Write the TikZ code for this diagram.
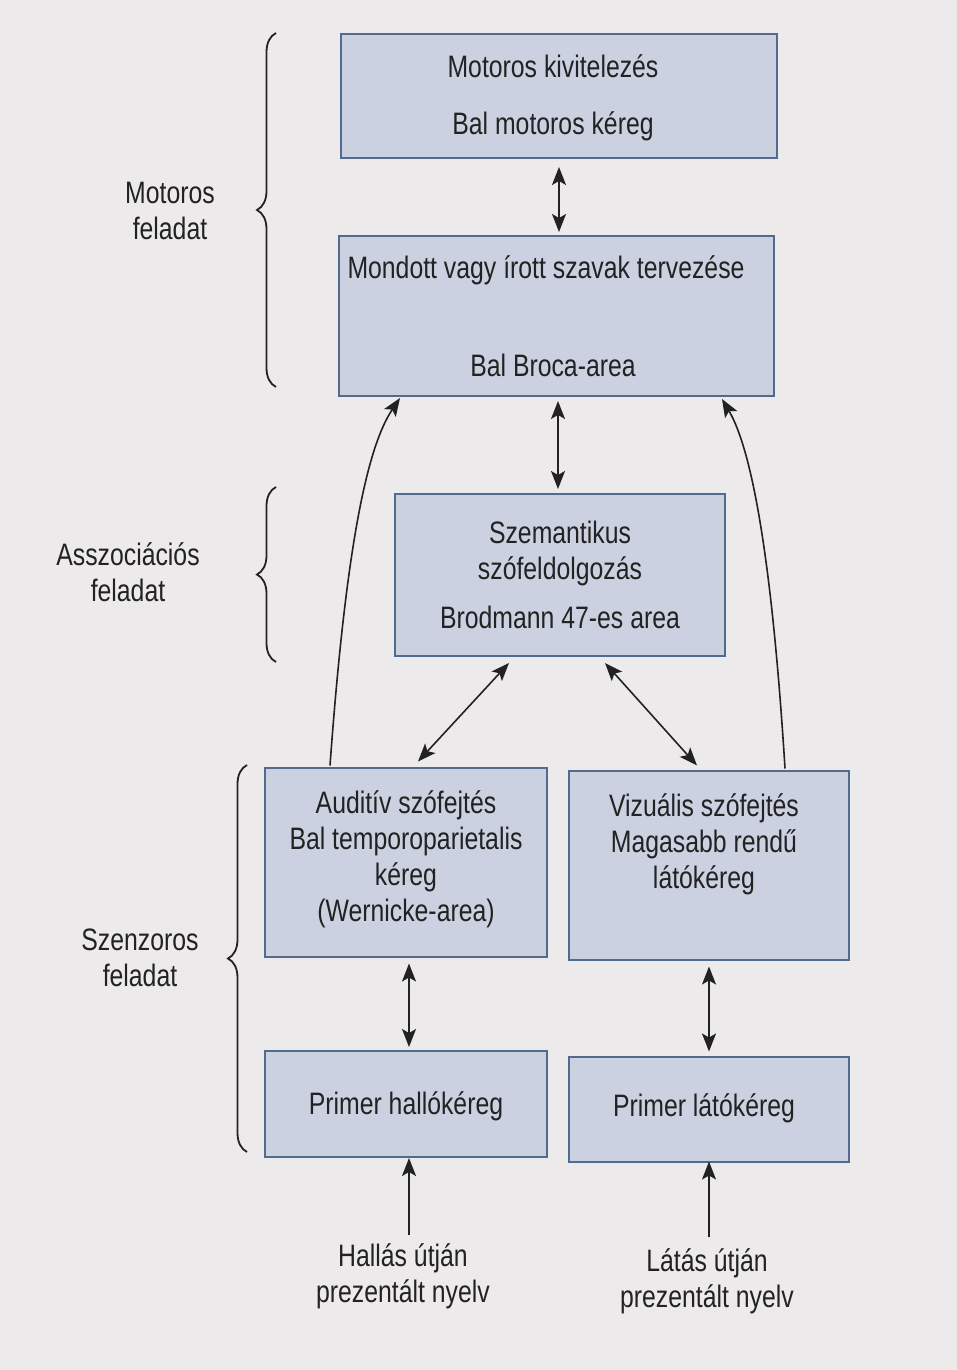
\documentclass[tikz,border=0pt]{standalone}
\usepackage{fontspec}
\setmainfont[FakeStretch=0.80]{Liberation Sans}
\usetikzlibrary{arrows.meta,decorations.pathreplacing}
\definecolor{pagebg}{HTML}{EDEAEB}
\definecolor{boxfill}{HTML}{CBD1E0}
\definecolor{boxline}{HTML}{526A8E}
\definecolor{ink}{HTML}{222222}
\tikzset{
  blk/.style={draw=boxline, fill=boxfill, line width=2pt, rectangle, inner sep=0pt},
  txt/.style={text=ink, align=center, inner sep=0pt, font=\fontsize{31}{36}\selectfont},
  conn/.style={draw=ink, line width=1.6pt},
  dbl/.style={conn, {Stealth[length=18pt,width=14pt,inset=4pt]}-{Stealth[length=18pt,width=14pt,inset=4pt]}},
  sgl/.style={conn, -{Stealth[length=18pt,width=14pt,inset=4pt]}},
  brc/.style={draw=ink, line width=1.8pt, decorate, decoration={brace, amplitude=19pt}},
}
\begin{document}
\begin{tikzpicture}[x=1pt,y=-1pt]
\fill[pagebg] (0,0) rectangle (957,1370);
\useasboundingbox (0,0) rectangle (957,1370);

% boxes
\node[blk, minimum width=436pt, minimum height=124pt] (b1) at (559,96) {};
\node[blk, minimum width=435pt, minimum height=160pt] (b2) at (556,316) {};
\node[blk, minimum width=330pt, minimum height=162pt] (b3) at (560,575) {};
\node[blk, minimum width=282pt, minimum height=189pt] (b4) at (406,862) {};
\node[blk, minimum width=280pt, minimum height=189pt] (b5) at (709,865) {};
\node[blk, minimum width=282pt, minimum height=106pt] (b6) at (406,1104) {};
\node[blk, minimum width=280pt, minimum height=105pt] (b7) at (709,1109) {};

% texts in boxes
\node[txt] (t1a) at (553,66) {Motoros kivitelezés};
\node[txt] (t1b) at (553,126) {Bal motoros kéreg};
\node[txt] (t2a) at (546,270) {Mondott vagy írott szavak tervezése};
\node[txt] (t2b) at (553,365) {Bal Broca-area};
\node[txt] (t3) at (560,575) {Szemantikus\\szófeldolgozás\\[13pt]Brodmann 47-es area};
\node[txt] (t4) at (406,859) {Auditív szófejtés\\Bal temporoparietalis\\kéreg\\(Wernicke-area)};
\node[txt] (t5) at (704,844) {Vizuális szófejtés\\Magasabb rendű\\látókéreg};
\node[txt] (t6) at (406,1106) {Primer hallókéreg};
\node[txt] (t7) at (704,1108) {Primer látókéreg};

% side labels
\node[txt] (l1) at (170,211) {Motoros\\feladat};
\node[txt] (l2) at (128,572) {Asszociációs\\feladat};
\node[txt] (l3) at (140,958) {Szenzoros\\feladat};

% bottom labels
\node[txt] (in1) at (403,1276) {Hallás útján\\prezentált nyelv};
\node[txt] (in2) at (707,1281) {Látás útján\\prezentált nyelv};

% braces
\coordinate (br1t) at (276,33);  \coordinate (br1b) at (276,387);
\coordinate (br2t) at (276,487); \coordinate (br2b) at (276,662);
\coordinate (br3t) at (247,765); \coordinate (br3b) at (247,1152);
\draw[brc] (br1b) -- (br1t);
\draw[brc] (br2b) -- (br2t);
\draw[brc] (br3b) -- (br3t);

% straight connectors
\draw[dbl] ([yshift=-8pt]b1.south -| 559,0) -- ([yshift=3pt]b2.north -| 559,0);
\draw[dbl] ([yshift=-4pt]b2.south -| 558,0) -- ([yshift=4pt]b3.north -| 558,0);
\draw[dbl] ([xshift=-51pt,yshift=-6pt]b3.south) -- ([xshift=12pt,yshift=5pt]b4.north);
\draw[dbl] ([xshift=45pt,yshift=-6pt]b3.south) -- ([xshift=-12pt,yshift=4pt]b5.north);
\draw[dbl] ([xshift=3pt,yshift=-6pt]b4.south) -- ([xshift=3pt,yshift=3pt]b6.north);
\draw[dbl] ([yshift=-6pt]b5.south) -- ([yshift=4pt]b7.north);

% input arrows
\coordinate (s1) at (409,1235);
\coordinate (s2) at (709,1237);
\draw[sgl] (s1) -- (s1 |- b6.south);
\draw[sgl] (s2) -- ([yshift=1pt]s2 |- b7.south);

% curved arrows
\draw[sgl] ([xshift=-76pt,yshift=1pt]b4.north) .. controls (345,560) and (365,450) .. ([xshift=-156pt,yshift=-1pt]b2.south);
\draw[sgl] ([xshift=76pt,yshift=1pt]b5.north) .. controls (772,560) and (752,450) .. ([xshift=166pt,yshift=-2pt]b2.south);
\end{tikzpicture}
\end{document}
